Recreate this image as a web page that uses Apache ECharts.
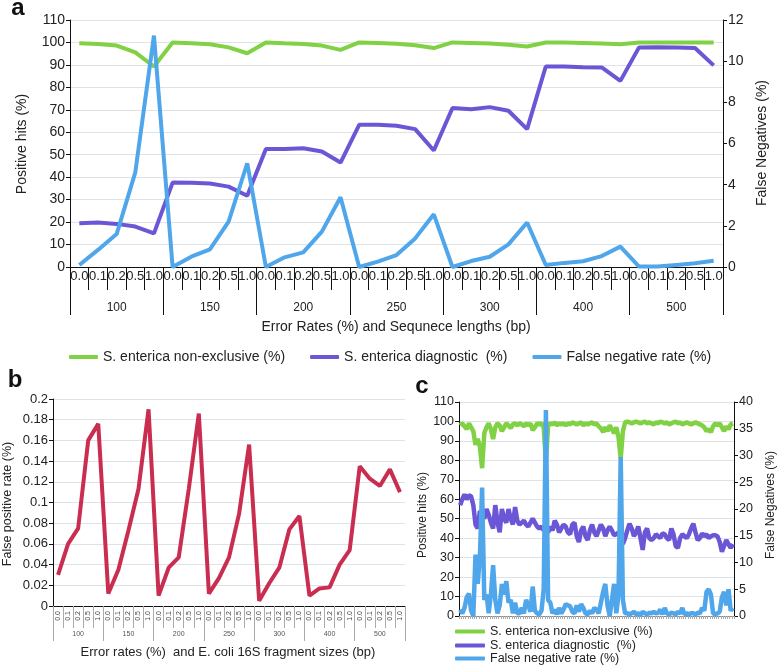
<!DOCTYPE html>
<html>
<head>
<meta charset="utf-8">
<script src="https://cdn.jsdelivr.net/npm/echarts@6/dist/echarts.min.js"></script>
<style>html,body{margin:0;padding:0;background:#fff}#chart{width:777px;height:665px}</style>
</head>
<body>
<div id="chart"></div>
<script>
// ---------- data ----------
const rates = ['0.0', '0.1', '0.2', '0.5', '1.0'];
const lengthsA = ['100', '150', '200', '250', '300', '400', '500'];
const lengthsB = ['100', '150', '200', '250', '300', '400', '500'];

// panel a (positive hits %, left axis)
const aNonExclusive = [99.7, 99.3, 98.6, 95.6, 89.3, 100, 99.6, 99.2, 97.8, 95.2, 100, 99.6, 99.3, 98.6, 96.7, 100, 99.8, 99.4, 98.8, 97.5, 100, 99.8, 99.5, 99.0, 98.2, 100, 100, 99.8, 99.5, 99.2, 100, 100, 100, 100, 100];
const aDiagnostic = [19.5, 19.8, 19.2, 18.0, 15.0, 37.6, 37.5, 37.2, 35.8, 31.7, 52.5, 52.6, 52.9, 51.4, 46.5, 63.3, 63.4, 62.9, 61.4, 51.9, 70.8, 70.3, 71.2, 69.6, 61.4, 89.3, 89.3, 89.0, 88.9, 82.9, 97.8, 97.9, 97.8, 97.5, 89.8];
// panel a (false negatives %, right axis)
const aFalseNeg = [0.1, 0.83, 1.6, 4.6, 11.24, 0, 0.5, 0.86, 2.2, 5.04, 0, 0.47, 0.71, 1.72, 3.39, 0, 0.26, 0.58, 1.39, 2.56, 0, 0.29, 0.5, 1.1, 2.16, 0.1, 0.2, 0.28, 0.53, 0.99, 0.02, 0.02, 0.1, 0.18, 0.3];

// panel b (false positive rate %)
const bFalsePos = [0.03, 0.06, 0.075, 0.16, 0.176, 0.012, 0.035, 0.073, 0.113, 0.19, 0.01, 0.037, 0.047, 0.113, 0.186, 0.012, 0.027, 0.047, 0.089, 0.156, 0.005, 0.022, 0.037, 0.074, 0.087, 0.01, 0.017, 0.018, 0.04, 0.054, 0.135, 0.123, 0.116, 0.132, 0.11];

// panel c (125 samples)
const cNonExclusive = [98, 99, 97.5, 96, 99, 97, 95, 88, 91, 87, 76, 94, 97, 99, 96, 91, 97, 99, 98, 95,
  97, 99, 98, 96.5, 98.5, 99, 98, 99, 98.5, 97.5, 99, 98, 99, 95.5, 97, 99, 98.5, 99, 97, 79,
  98, 99, 98.5, 99.5, 98, 99, 98.5, 99, 98, 99, 98.5, 99.5, 99, 98.5, 99, 99.5, 98, 99, 98.5, 99,
  99.5, 98.5, 99, 97.5, 96.5, 94.5, 97, 95, 98, 96, 94, 97, 92, 81, 95, 99.5, 100, 99.5, 99, 99.5,
  100, 99.5, 99, 99.5, 100, 99, 99.5, 99, 98.5, 99.5, 99, 100, 99.5, 99, 99.5, 98.5, 99, 99.5, 100, 99,
  99.5, 98.5, 99, 99.5, 99, 98.5, 99, 99.5, 99, 98.5, 98, 97, 95, 96, 94.5, 97.5, 99, 98, 99, 97,
  95, 97.5, 96, 98.5, 99];
const cDiagnostic = [57, 60, 62.5, 60, 62, 61.5, 57, 47, 45, 54, 52, 50, 55, 52, 48, 45, 57, 48, 43, 55,
  50, 48, 55, 50, 47, 56, 49, 47, 48, 49, 47, 46, 48, 50, 48, 46, 45, 46, 44, 45,
  43, 46, 44, 49, 47, 43, 45, 47, 46, 43, 42, 47, 48, 41, 38, 44, 46, 41, 39, 44,
  47, 43, 41, 44, 47, 45, 41, 44, 46, 44, 41.5, 42, 43, 40, 37, 40, 44, 47.5, 45, 41,
  43, 46, 40, 34, 43, 45, 40, 39, 40, 42, 41, 40, 42.5, 42, 40, 39, 45, 42, 36, 35,
  40, 42, 41, 40, 42, 45, 47.5, 43, 39, 40, 42.5, 41, 42, 40, 41, 41.5, 41.5, 41, 38, 33,
  36, 39, 37, 35, 37];
const cFalseNeg = [1.2, 0.5, 1.5, 3.5, 4.2, 1, 0, 11.5, 6, 11, 24, 3, 4, 0.5, 4, 9.5, 3, 0.5, 2, 6,
  4, 6.5, 2.5, 3, 0.5, 2.5, 0.5, 0.5, 1.5, 0.5, 3, 2, 0.8, 5.5, 1, 0.5, 0.3, 1, 5, 38.5,
  3, 2.5, 0.5, 1.2, 0.3, 1.5, 0.5, 1.2, 2.2, 2, 1.8, 0.8, 0.5, 2, 0.8, 2.2, 1.5, 0.5, 0.3, 1,
  0.5, 1.5, 1.2, 0.5, 2.5, 4.5, 6, 2, 0, 3, 6, 0.5, 4, 29.7, 3, 0.5, 0.5, 0.3, 0.5, 0.8,
  0.3, 0.5, 0.2, 0.8, 0.5, 0.3, 0.6, 0.5, 0.8, 0.5, 0.6, 1.2, 0.3, 1.5, 0.5, 0.3, 0.6, 0.5, 0.3, 0.8,
  0.5, 1.5, 0.3, 0.5, 0.3, 0.5, 0.5, 0.3, 0.6, 0.5, 1.5, 1, 4.5, 5, 4, 0.5, 0.3, 0.5, 0.8, 3.5,
  4.5, 2, 5, 1, 1.5];

const seriesNames = ['S. enterica non-exclusive (%)', 'S. enterica diagnostic  (%)', 'False negative rate (%)'];

// ---------- build ----------
const catsA = [];
lengthsA.forEach(l => rates.forEach(r => catsA.push(l + '|' + r)));
const catsB = [];
lengthsB.forEach(l => rates.forEach(r => catsB.push(l + '|' + r)));
const catsC = cNonExclusive.map((_, i) => 'c' + i);

const GREEN = '#80d143', PURPLE = '#6b57d6', BLUE = '#50a6ea', RED = '#c92d50';
const FONT = '"Liberation Sans", Arial, Helvetica, sans-serif';
const GRID = '#dde3e6';
const TXT = '#222';

const chart = echarts.init(document.getElementById('chart'), null, {renderer: 'canvas'});

function yAx(grid, min, max, interval, pos, split, fs) {
  return {
    type: 'value', gridIndex: grid, min: min, max: max, interval: interval, position: pos,
    axisLine: {show: true, lineStyle: {color: '#111', width: 1}},
    axisTick: {show: true, length: 4, lineStyle: {color: '#111'}},
    axisLabel: {color: TXT, fontSize: fs, fontFamily: FONT, margin: 5},
    splitLine: {show: split, lineStyle: {color: GRID, width: 1}}
  };
}

function txt(x, y, text, size, rot, weight, color) {
  return {
    type: 'text', x: x, y: y, rotation: rot || 0,
    style: {text: text, font: (weight || 'normal') + ' ' + size + 'px ' + FONT, fill: color || TXT,
      align: 'center', verticalAlign: 'middle', textAlign: 'center', textVerticalAlign: 'middle'}
  };
}

function legendC(top, name) {
  return {left: 455, top: top, padding: 0, itemWidth: 30, itemHeight: 4, icon: 'roundRect',
    textStyle: {fontSize: 12.5, color: TXT, fontFamily: FONT}, data: [name]};
}

const option = {
  animation: false,
  backgroundColor: '#fff',
  grid: [
    {left: 70, top: 20, width: 653, height: 247, outerBoundsMode: 'none'},
    {left: 53, top: 399, width: 352, height: 207, outerBoundsMode: 'none'},
    {left: 459, top: 402, width: 275, height: 214, outerBoundsMode: 'none'}
  ],
  xAxis: [
    {type: 'category', gridIndex: 0, data: catsA, boundaryGap: true,
      axisLine: {lineStyle: {color: '#111'}},
      axisTick: {show: true, interval: 0, length: 23, lineStyle: {color: '#111'}},
      axisLabel: {interval: 0, margin: 3, fontSize: 13, color: TXT, fontFamily: FONT,
        formatter: v => v.split('|')[1]}},
    {type: 'category', gridIndex: 0, data: lengthsA, boundaryGap: true, position: 'bottom',
      axisLine: {lineStyle: {color: '#111'}},
      axisTick: {show: true, interval: 0, length: 48, lineStyle: {color: '#111'}},
      axisLabel: {interval: 0, margin: 35, fontSize: 12, color: TXT, fontFamily: FONT}},
    {type: 'category', gridIndex: 1, data: catsB, boundaryGap: true,
      axisLine: {lineStyle: {color: '#111'}},
      axisTick: {show: true, interval: 0, length: 22, lineStyle: {color: '#aaa'}},
      axisLabel: {interval: 0, margin: 5, fontSize: 7, rotate: 90, color: '#444', fontFamily: FONT,
        formatter: v => v.split('|')[1]}},
    {type: 'category', gridIndex: 1, data: lengthsB, boundaryGap: true, position: 'bottom',
      axisLine: {lineStyle: {color: '#111'}},
      axisTick: {show: true, interval: 0, length: 35, lineStyle: {color: '#aaa'}},
      axisLabel: {interval: 0, margin: 25, fontSize: 7, color: '#555', fontFamily: FONT}},
    {type: 'category', gridIndex: 2, data: catsC, boundaryGap: true,
      axisLine: {lineStyle: {color: '#888'}},
      axisTick: {show: true, interval: 0, length: 3, lineStyle: {color: '#aaa'}},
      axisLabel: {show: false}}
  ],
  yAxis: [
    yAx(0, 0, 110, 10, 'left', true, 14),
    yAx(0, 0, 12, 2, 'right', false, 14),
    yAx(1, 0, 0.2, 0.02, 'left', true, 13),
    yAx(2, 0, 110, 10, 'left', true, 12.5),
    yAx(2, 0, 40, 5, 'right', false, 12.5)
  ],
  legend: [
    {left: 69, top: 350, padding: 0, itemGap: 25, itemWidth: 29, itemHeight: 4, icon: 'roundRect',
      textStyle: {fontSize: 14, color: TXT, fontFamily: FONT},
      data: seriesNames},
    legendC(625, seriesNames[0]),
    legendC(639, seriesNames[1]),
    legendC(652, seriesNames[2])
  ],
  series: [
    {name: seriesNames[0], type: 'line', xAxisIndex: 0, yAxisIndex: 0, data: aNonExclusive,
      showSymbol: false, lineStyle: {color: GREEN, width: 4}, itemStyle: {color: GREEN}},
    {name: seriesNames[1], type: 'line', xAxisIndex: 0, yAxisIndex: 0, data: aDiagnostic,
      showSymbol: false, lineStyle: {color: PURPLE, width: 4}, itemStyle: {color: PURPLE}},
    {name: seriesNames[2], type: 'line', xAxisIndex: 0, yAxisIndex: 1, data: aFalseNeg,
      showSymbol: false, lineStyle: {color: BLUE, width: 4}, itemStyle: {color: BLUE}},
    {name: 'False positive rate', type: 'line', xAxisIndex: 2, yAxisIndex: 2, data: bFalsePos,
      showSymbol: false, lineStyle: {color: RED, width: 4}, itemStyle: {color: RED}},
    {name: seriesNames[0], type: 'line', xAxisIndex: 4, yAxisIndex: 3, data: cNonExclusive,
      showSymbol: false, lineStyle: {color: GREEN, width: 4.5}, itemStyle: {color: GREEN}},
    {name: seriesNames[1], type: 'line', xAxisIndex: 4, yAxisIndex: 3, data: cDiagnostic,
      showSymbol: false, lineStyle: {color: PURPLE, width: 4.5}, itemStyle: {color: PURPLE}},
    {name: seriesNames[2], type: 'line', xAxisIndex: 4, yAxisIndex: 4, data: cFalseNeg,
      showSymbol: false, lineStyle: {color: BLUE, width: 4.5}, itemStyle: {color: BLUE}}
  ],
  graphic: [
    txt(18, 8, 'a', 24, 0, 'bold', '#111'),
    txt(15, 380, 'b', 24, 0, 'bold', '#111'),
    txt(422, 386, 'c', 24, 0, 'bold', '#111'),
    txt(22, 144, 'Positive hits (%)', 14, Math.PI / 2),
    txt(762, 143, 'False Negatives (%)', 14, Math.PI / 2),
    txt(396, 327, 'Error Rates (%) and Sequnece lengths (bp)', 14),
    txt(8, 504, 'False positive rate (%)', 12.5, Math.PI / 2),
    txt(228, 652, 'Error rates (%)  and E. coli 16S fragment sizes (bp)', 13),
    txt(423, 515, 'Positive hits (%)', 12, Math.PI / 2),
    txt(771, 505, 'False Negatives (%)', 12, Math.PI / 2)
  ]
};
chart.setOption(option);
</script>
</body>
</html>
